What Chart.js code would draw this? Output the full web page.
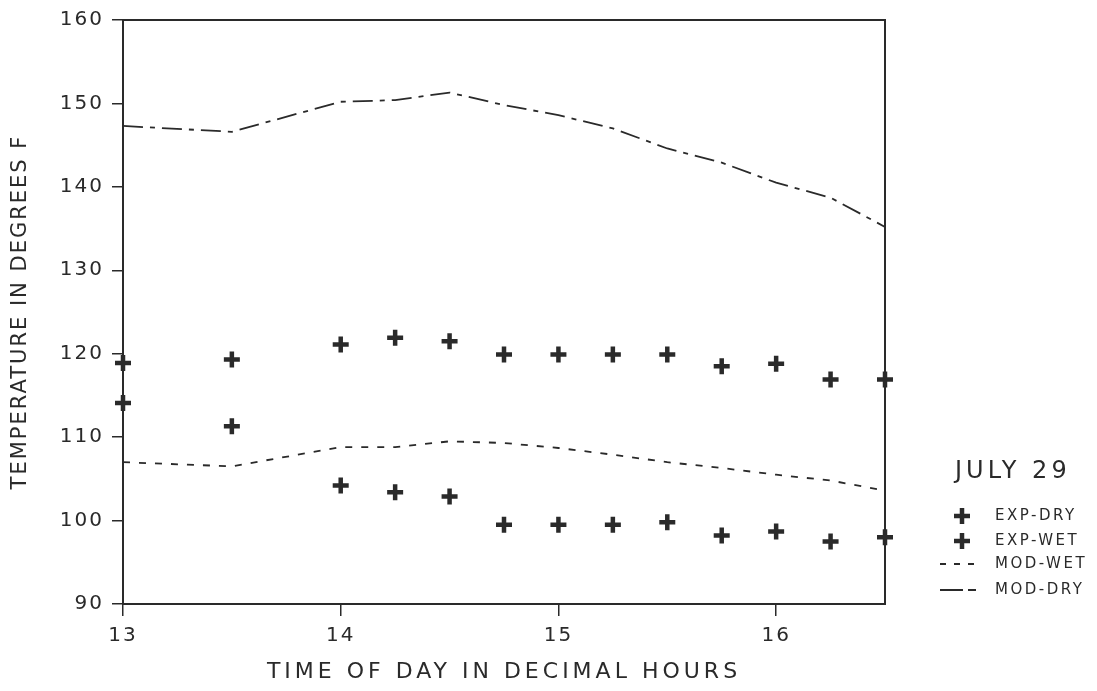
<!DOCTYPE html>
<html>
<head>
<meta charset="utf-8">
<script src="https://cdn.jsdelivr.net/npm/chart.js@4/dist/chart.umd.min.js"></script>
<style>
  html,body{margin:0;padding:0;background:#fff;}
  #wrap{position:relative;width:1097px;height:691px;}
</style>
</head>
<body>
<div id="wrap"><canvas id="c" width="1097" height="691"></canvas></div>
<script>
const hours   = [13, 13.5, 14, 14.25, 14.5, 14.75, 15, 15.25, 15.5, 15.75, 16, 16.25, 16.5];
const expDry  = [118.9, 119.3, 121.1, 121.9, 121.5, 119.9, 119.9, 119.9, 119.9, 118.5, 118.8, 116.9, 116.9];
const expWet  = [114.1, 111.3, 104.2, 103.4, 102.9, 99.5, 99.5, 99.5, 99.8, 98.2, 98.7, 97.5, 98.0];
const modWet  = [107.0, 106.5, 108.8, 108.8, 109.5, 109.3, 108.7, 107.9, 107.0, 106.3, 105.5, 104.8, 103.6];
const modDry  = [147.3, 146.6, 150.2, 150.4, 151.3, 149.8, 148.6, 147.0, 144.6, 142.9, 140.5, 138.7, 135.2];
const xTicks  = [13, 14, 15, 16];
const yTicks  = [90, 100, 110, 120, 130, 140, 150, 160];
const legendTitle = 'JULY 29';
const seriesNames = ['EXP-DRY', 'EXP-WET', 'MOD-WET', 'MOD-DRY'];

const INK = '#2a2a2a';
const FONT = '"DejaVu Sans", sans-serif';
const pts = arr => hours.map((h, i) => ({x: h, y: arr[i]}));

function spacedTitle(s, spacing) {
  if (s._spacedPatch) return;
  const orig = s.drawTitle.bind(s);
  s.drawTitle = function () {
    const prev = this.ctx.letterSpacing;
    this.ctx.letterSpacing = spacing;
    orig();
    this.ctx.letterSpacing = prev;
  };
  s._spacedPatch = true;
}

const frame = {
  id: 'frame',
  beforeDraw(chart) { chart.ctx.letterSpacing = '2px'; },
  afterDatasetsDraw(chart) {
    const {ctx, chartArea: a} = chart;
    ctx.save();
    ctx.strokeStyle = INK; ctx.lineWidth = 2;
    ctx.strokeRect(a.left, a.top, a.right - a.left, a.bottom - a.top);
    ctx.restore();
  },
  afterDraw(chart) {
    const ctx = chart.ctx;
    ctx.save();
    ctx.fillStyle = INK; ctx.strokeStyle = INK;
    ctx.letterSpacing = '4px';
    ctx.font = '24px ' + FONT;
    ctx.textBaseline = 'middle';
    ctx.fillText(legendTitle, 955, 472);
    ctx.font = '15px ' + FONT;
    ctx.letterSpacing = '2.5px';
    const rows = [516, 541, 564, 590];
    rows.forEach((y, i) => {
      ctx.fillText(seriesNames[i], 995, y);
      ctx.lineCap = 'butt';
      if (i < 2) {
        ctx.lineWidth = 4.5;
        ctx.beginPath();
        ctx.moveTo(954, y); ctx.lineTo(970, y);
        ctx.moveTo(962, y - 8); ctx.lineTo(962, y + 8);
        ctx.stroke();
      } else if (i === 2) {
        ctx.lineWidth = 2;
        ctx.setLineDash([6, 8]);
        ctx.beginPath(); ctx.moveTo(940, y); ctx.lineTo(982, y); ctx.stroke();
      } else {
        ctx.lineWidth = 2;
        ctx.setLineDash([23, 5, 8, 20]);
        ctx.beginPath(); ctx.moveTo(940, y); ctx.lineTo(977, y); ctx.stroke();
      }
      ctx.setLineDash([]);
    });
    ctx.restore();
  }
};

new Chart(document.getElementById('c'), {
  type: 'scatter',
  data: {
    datasets: [
      {label: seriesNames[0], data: pts(expDry), showLine: false, pointStyle: 'cross',
       pointRadius: 8, pointBorderWidth: 4.5, borderColor: INK, backgroundColor: INK, clip: false},
      {label: seriesNames[1], data: pts(expWet), showLine: false, pointStyle: 'cross',
       pointRadius: 8, pointBorderWidth: 4.5, borderColor: INK, backgroundColor: INK, clip: false},
      {label: seriesNames[2], data: pts(modWet), showLine: true, pointRadius: 0,
       borderColor: INK, borderWidth: 1.8, borderDash: [7, 9], tension: 0},
      {label: seriesNames[3], data: pts(modDry), showLine: true, pointRadius: 0,
       borderColor: INK, borderWidth: 1.8, borderDash: [20, 7, 5, 7], tension: 0}
    ]
  },
  options: {
    responsive: false,
    animation: false,
    events: [],
    layout: {padding: {left: 0, right: 212, top: 18, bottom: 0}},
    plugins: {legend: {display: false}, tooltip: {enabled: false}},
    scales: {
      x: {
        type: 'linear', min: 13, max: 16.5,
        afterBuildTicks: s => { s.ticks = xTicks.map(v => ({value: v})); },
        afterFit: s => { s.height = 691 - 604; },
        afterUpdate: s => spacedTitle(s, '4px'),
        grid: {drawOnChartArea: false, drawTicks: true, tickLength: 12, color: INK, lineWidth: 1.5},
        border: {display: true, color: INK, width: 2},
        ticks: {color: INK, font: {family: FONT, size: 20}, padding: 8, maxRotation: 0},
        title: {display: true, text: 'TIME OF DAY IN DECIMAL HOURS', color: INK,
                font: {family: FONT, size: 22}, padding: {top: 6, bottom: 6}}
      },
      y: {
        type: 'linear', min: 90, max: 160,
        afterBuildTicks: s => { s.ticks = yTicks.map(v => ({value: v})); },
        afterFit: s => { s.width = 123; },
        grid: {drawOnChartArea: false, drawTicks: true, tickLength: 11, color: INK, lineWidth: 1.5},
        border: {display: true, color: INK, width: 2},
        ticks: {color: INK, font: {family: FONT, size: 20}, padding: 8},
        title: {display: true, text: 'TEMPERATURE IN DEGREES F', color: INK,
                font: {family: FONT, size: 21}, padding: {top: 8, bottom: 4}}
      }
    }
  },
  plugins: [frame]
});
</script>
</body>
</html>
